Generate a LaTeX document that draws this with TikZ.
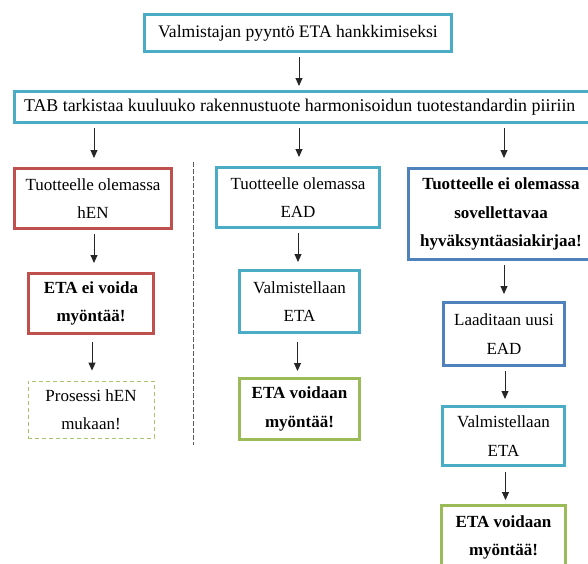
\documentclass[tikz,border=0pt]{standalone}
\usepackage{fontspec}
\setmainfont{Liberation Serif}
\usetikzlibrary{arrows.meta}
\definecolor{cteal}{HTML}{4BACC6}
\definecolor{cred}{HTML}{C0504D}
\definecolor{cblue}{HTML}{4F81BD}
\definecolor{cgreen}{HTML}{9BBB59}
\definecolor{cgreenlt}{HTML}{A9C46F}
\tikzset{
  box/.style={draw, line width=3pt, inner sep=0pt, align=center, fill=white,
    font=\fontsize{17}{28.5}\selectfont},
  tealbox/.style={box, draw=cteal},
  redbox/.style={box, draw=cred},
  bluebox/.style={box, draw=cblue},
  greenbox/.style={box, draw=cgreen},
  dashbox/.style={box, draw=cgreenlt, line width=0.9pt, dash pattern=on 4pt off 3pt},
  arr/.style={draw=black!85, line width=0.9pt, -{Triangle[length=8pt,width=7pt]}},
  sep/.style={draw=black!65, line width=0.9pt, dash pattern=on 4.5pt off 2.5pt}
}
\begin{document}
\begin{tikzpicture}[x=1pt,y=-1pt]
\useasboundingbox (0,0) rectangle (588,563);
% top
\node[tealbox, minimum width=307pt, minimum height=37pt, font=\fontsize{17.6}{28.5}\selectfont] (top) at (298,33) {Valmistajan pyyntö ETA hankkimiseksi};
\node[tealbox, anchor=west, text width=566pt, inner xsep=10pt, align=flush left, minimum height=31pt, font=\fontsize{17.9}{28.5}\selectfont] (tab) at (12.5,107) {TAB tarkistaa kuuluuko rakennustuote harmonisoidun tuotestandardin piiriin};
% left column
\node[redbox, minimum width=157pt, minimum height=60pt] (r1) at (93,198.5) {Tuotteelle olemassa\\hEN};
\node[redbox, minimum width=125pt, minimum height=60pt, font=\fontsize{17}{28.5}\selectfont\bfseries] (r2) at (91,303.5) {ETA ei voida\\myöntää!};
\node[dashbox, minimum width=126pt, minimum height=57pt] (d1) at (91,409.5) {Prosessi hEN\\mukaan!};
% middle column
\node[tealbox, minimum width=163pt, minimum height=60pt] (m1) at (298,197.5) {Tuotteelle olemassa\\EAD};
\node[tealbox, minimum width=120pt, minimum height=62pt] (m2) at (299.5,301.5) {Valmistellaan\\ETA};
\node[greenbox, minimum width=120pt, minimum height=61pt, font=\fontsize{17}{28.5}\selectfont\bfseries] (m3) at (299.5,409) {ETA voidaan\\myöntää!};
% right column
\node[bluebox, minimum width=185pt, minimum height=91pt, font=\fontsize{17}{28.5}\selectfont\bfseries] (b1) at (501,214) {Tuotteelle ei olemassa\\sovellettavaa\\hyväksyntäasiakirjaa!};
\node[bluebox, minimum width=121pt, minimum height=63pt] (b2) at (504,334) {Laaditaan uusi\\EAD};
\node[tealbox, minimum width=122pt, minimum height=59pt] (b3) at (503.5,436) {Valmistellaan\\ETA};
\node[greenbox, minimum width=124pt, minimum height=64pt, font=\fontsize{17}{28.5}\selectfont\bfseries] (b4) at (503.5,537.5) {ETA voidaan\\myöntää!};
% separator
\coordinate (s1) at (193,162);
\coordinate (s2) at (193,445);
\draw[sep] (s1) -- (s2);
% arrows
\draw[arr, shorten <=4pt, shorten >=4pt] (top.south) ++(1,0) coordinate (t0) -- (t0 |- tab.north);
\draw[arr, shorten <=4pt, shorten >=9pt] (tab.south -| r1.north) ++(1,0) coordinate (t1) -- (t1 |- r1.north);
\draw[arr, shorten <=4pt, shorten >=9pt] (tab.south -| m1.north) ++(1,0) coordinate (t2) -- (t2 |- m1.north);
\draw[arr, shorten <=4pt, shorten >=9pt] (tab.south -| b2.north) -- (b1.north -| b2.north);
\draw[arr, shorten <=4pt, shorten >=9pt] (r1.south) ++(1,0) coordinate (t3) -- (t3 |- r2.north);
\draw[arr, shorten <=7pt, shorten >=10pt] (r2.south) ++(1,0) coordinate (t4) -- (t4 |- d1.north);
\draw[arr, shorten <=4pt, shorten >=7pt] (m1.south) -- (m2.north -| m1.south);
\draw[arr, shorten <=8pt, shorten >=6pt] (m2.south) ++(-2,0) coordinate (t5) -- (t5 |- m3.north);
\draw[arr, shorten <=4pt, shorten >=7pt] (b1.south -| b2.north) -- (b2.north);
\draw[arr, shorten <=4pt, shorten >=6pt] (b2.south) ++(1,0) coordinate (t6) -- (t6 |- b3.north);
\draw[arr, shorten <=5pt, shorten >=4pt] (b3.south) ++(2,0) coordinate (t7) -- (t7 |- b4.north);
\end{tikzpicture}
\end{document}
